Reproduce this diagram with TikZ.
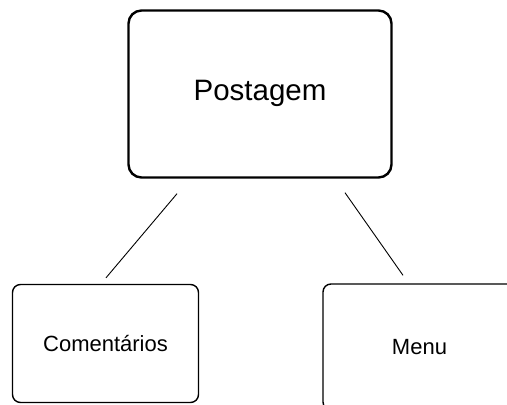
\documentclass[tikz,border=0pt]{standalone}
\usepackage{fontspec}
\setmainfont{Liberation Sans}
\usetikzlibrary{positioning}

\tikzset{
  bigbox/.style={draw, line width=2.4pt, rounded corners=13pt, inner sep=0pt,
    minimum width=263pt, minimum height=167pt, text height=22pt, text depth=9pt,
    font=\fontsize{29.5}{35}\selectfont},
  smallbox/.style={draw, line width=1.4pt, rounded corners=8pt, inner sep=0pt,
    minimum width=186pt, minimum height=118pt, font=\fontsize{22}{26}\selectfont},
  link/.style={draw, line width=0.9pt}
}

\begin{document}
\begin{tikzpicture}[x=1pt,y=-1pt]
\clip (0,0) rectangle (507,405);
\node[bigbox] (post) at (260,94) {Postagem};
\node[smallbox] (coment) at (105.5,343.5) {Comentários};
\node[smallbox, minimum width=193pt, minimum height=126pt] (menu) at (419.5,347) {Menu};
% ligacoes, soltas das caixas
\draw[link] ([xshift=-83pt,yshift=-15pt]post.south) -- ([xshift=0.5pt,yshift=6pt]coment.north);
\draw[link] ([xshift=85pt,yshift=-14pt]post.south) -- ([xshift=-16.5pt,yshift=8pt]menu.north);
\end{tikzpicture}
\end{document}
